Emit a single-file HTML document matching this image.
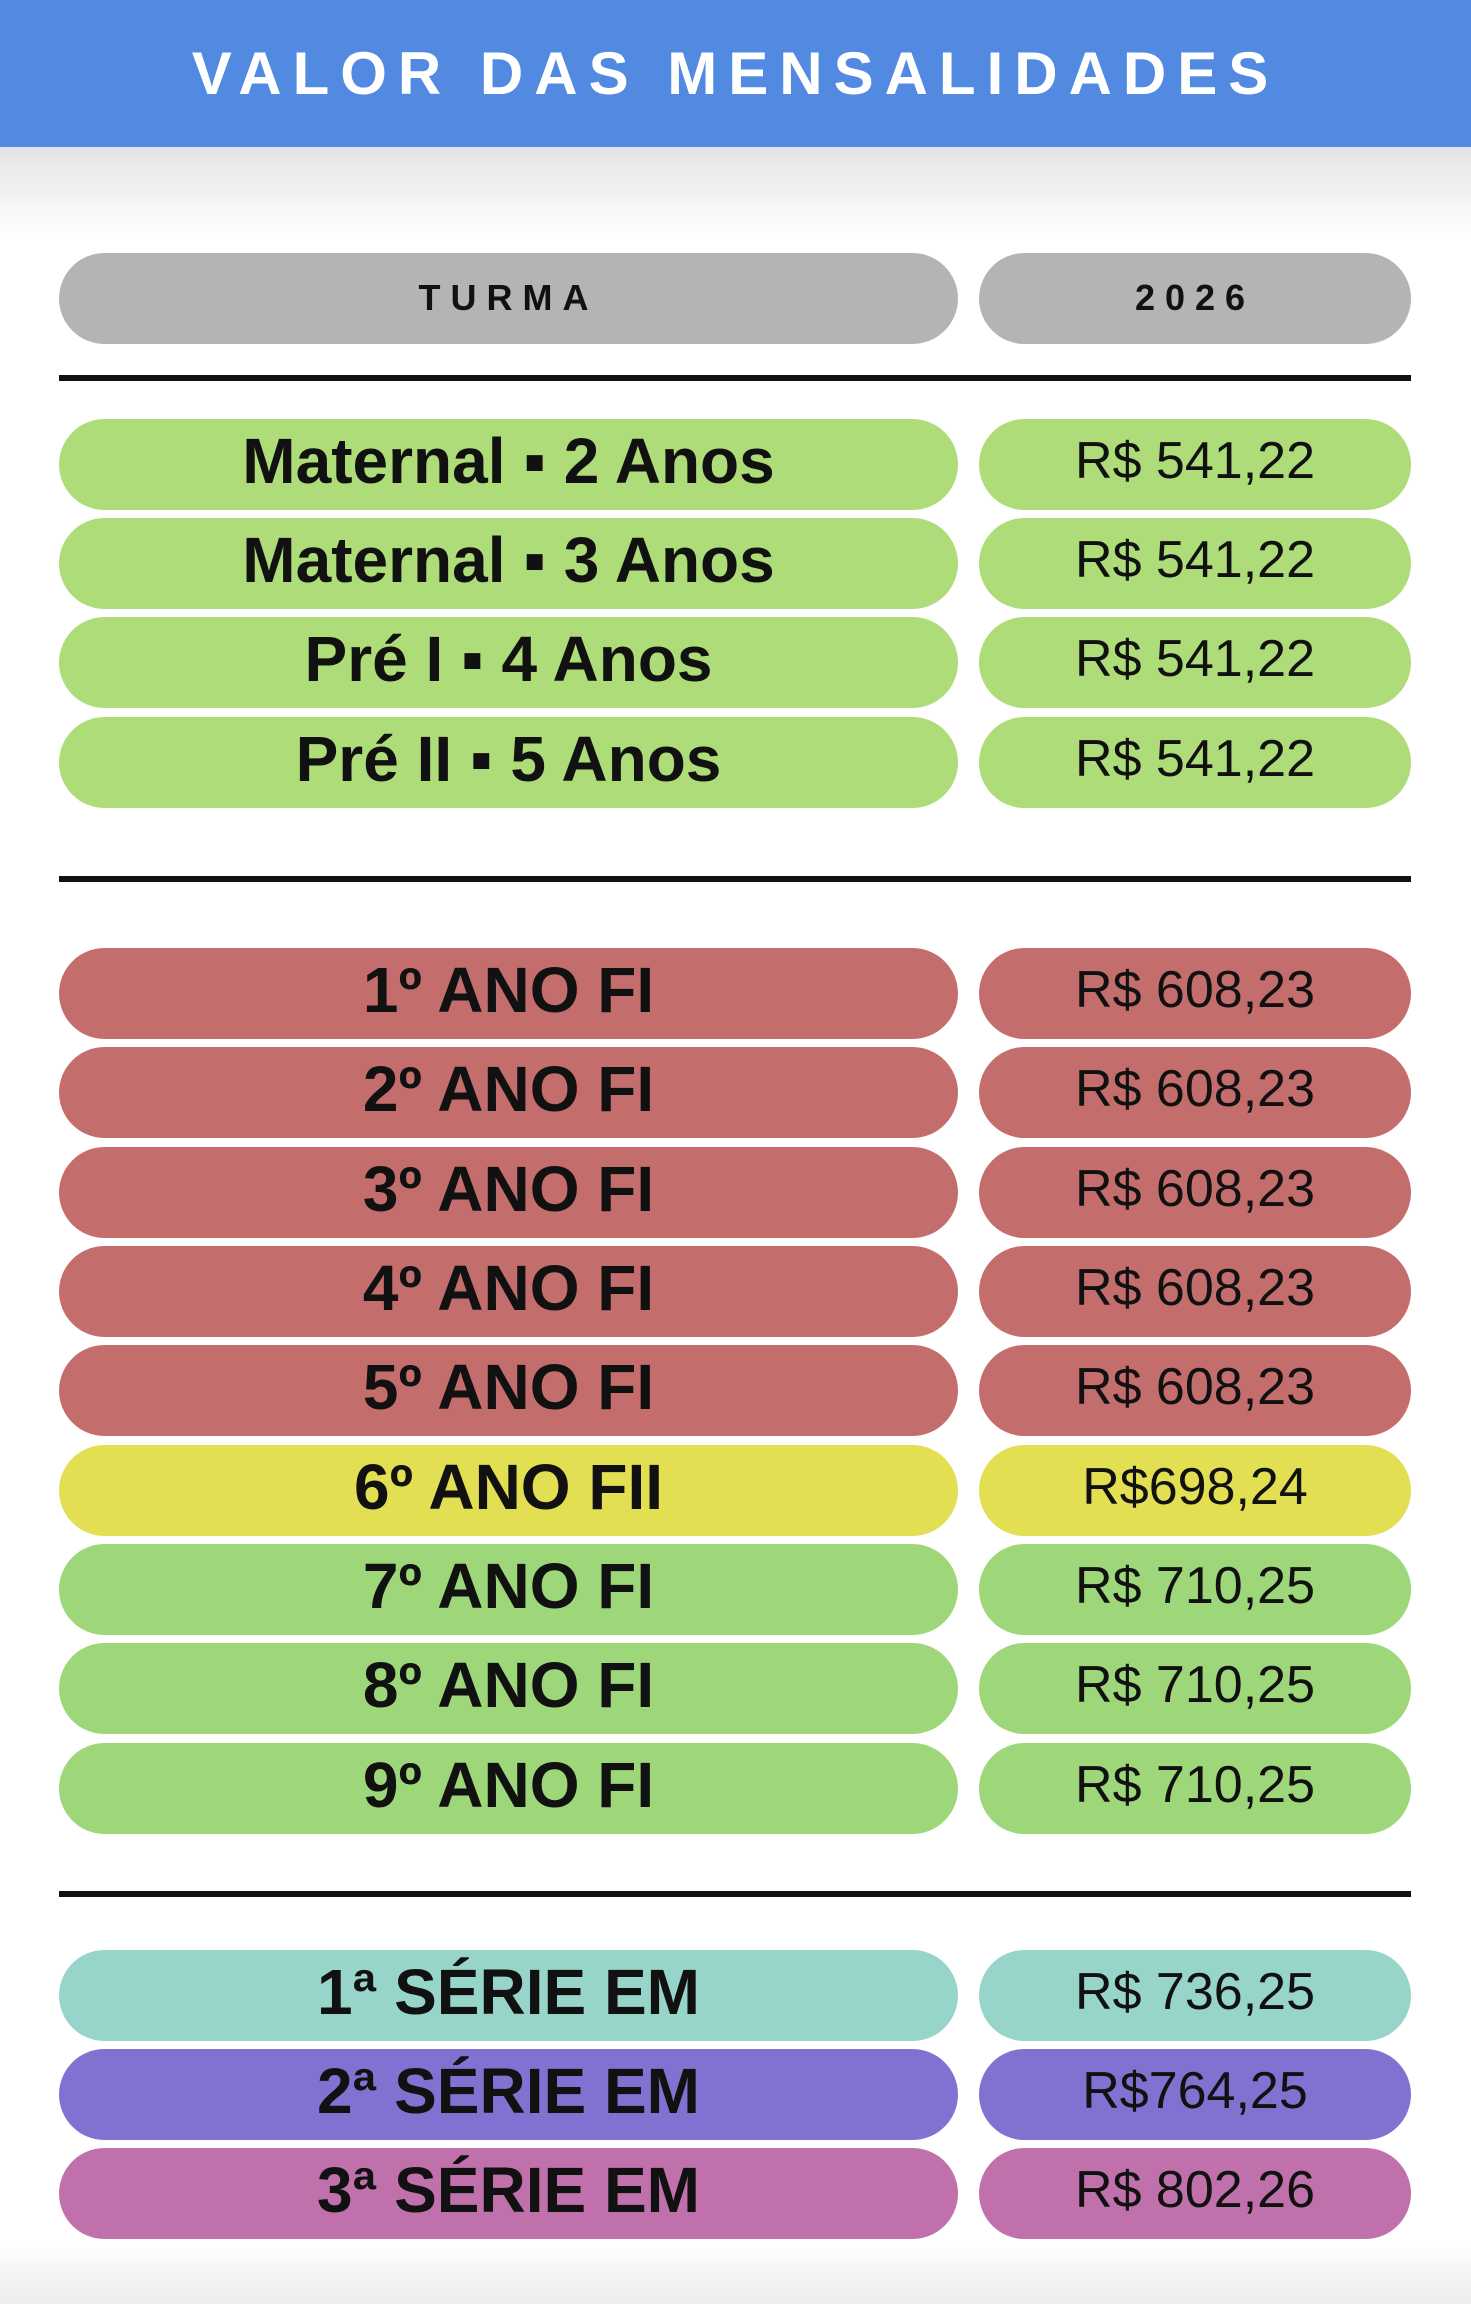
<!DOCTYPE html>
<html><head><meta charset="utf-8"><style>
body{margin:0;width:1471px;height:2304px;background:#fff;position:relative;overflow:hidden;font-family:"Liberation Sans",sans-serif;}
.hdr{position:absolute;left:0;top:0;width:1471px;height:147px;background:#518ae0;color:#fff;font-size:60px;letter-spacing:11px;text-align:center;line-height:147px;font-weight:700;}
.shade{position:absolute;left:0;top:147px;width:1471px;height:90px;background:linear-gradient(#e4e4e4,#fff);}
.bot{position:absolute;left:0;top:2240px;width:1471px;height:64px;background:linear-gradient(#fff,#ececec);}
.p{position:absolute;height:91px;border-radius:46px;display:flex;align-items:center;justify-content:center;color:#111;box-sizing:border-box;padding-bottom:8px;}
.l{left:59px;width:899px;font-weight:700;font-size:64px;}
.r{left:979px;width:432px;font-size:52px;}
.g{background:#b4b4b4;font-size:36px;font-weight:700;letter-spacing:10px;padding-bottom:2px;}
.line{position:absolute;left:59px;width:1352px;height:6px;background:#111;}
</style></head><body>
<div class="hdr">VALOR DAS MENSALIDADES</div>
<div class="shade"></div>
<div class="bot"></div>
<div class="p l g" style="top:253px">TURMA</div>
<div class="p r g" style="top:253px;font-size:36px">2026</div>
<div class="line" style="top:375px"></div>

<div class="p l" style="top:419px;background:#aedc78">Maternal ▪ 2 Anos</div><div class="p r" style="top:419px;background:#aedc78">R$ 541,22</div>
<div class="p l" style="top:518px;background:#aedc78">Maternal ▪ 3 Anos</div><div class="p r" style="top:518px;background:#aedc78">R$ 541,22</div>
<div class="p l" style="top:617px;background:#aedc78">Pré I ▪ 4 Anos</div><div class="p r" style="top:617px;background:#aedc78">R$ 541,22</div>
<div class="p l" style="top:717px;background:#aedc78">Pré II ▪ 5 Anos</div><div class="p r" style="top:717px;background:#aedc78">R$ 541,22</div>

<div class="line" style="top:876px"></div>

<div class="p l" style="top:948px;background:#c46d6d">1º ANO FI</div><div class="p r" style="top:948px;background:#c46d6d">R$ 608,23</div>
<div class="p l" style="top:1047px;background:#c46d6d">2º ANO FI</div><div class="p r" style="top:1047px;background:#c46d6d">R$ 608,23</div>
<div class="p l" style="top:1147px;background:#c46d6d">3º ANO FI</div><div class="p r" style="top:1147px;background:#c46d6d">R$ 608,23</div>
<div class="p l" style="top:1246px;background:#c46d6d">4º ANO FI</div><div class="p r" style="top:1246px;background:#c46d6d">R$ 608,23</div>
<div class="p l" style="top:1345px;background:#c46d6d">5º ANO FI</div><div class="p r" style="top:1345px;background:#c46d6d">R$ 608,23</div>
<div class="p l" style="top:1445px;background:#e3df53">6º ANO FII</div><div class="p r" style="top:1445px;background:#e3df53">R$698,24</div>
<div class="p l" style="top:1544px;background:#9ed67a">7º ANO FI</div><div class="p r" style="top:1544px;background:#9ed67a">R$ 710,25</div>
<div class="p l" style="top:1643px;background:#9ed67a">8º ANO FI</div><div class="p r" style="top:1643px;background:#9ed67a">R$ 710,25</div>
<div class="p l" style="top:1743px;background:#9ed67a">9º ANO FI</div><div class="p r" style="top:1743px;background:#9ed67a">R$ 710,25</div>

<div class="line" style="top:1891px"></div>

<div class="p l" style="top:1950px;background:#97d5ca">1ª SÉRIE EM</div><div class="p r" style="top:1950px;background:#97d5ca">R$ 736,25</div>
<div class="p l" style="top:2049px;background:#7f72d0">2ª SÉRIE EM</div><div class="p r" style="top:2049px;background:#7f72d0">R$764,25</div>
<div class="p l" style="top:2148px;background:#c070ab">3ª SÉRIE EM</div><div class="p r" style="top:2148px;background:#c070ab">R$ 802,26</div>
</body></html>
